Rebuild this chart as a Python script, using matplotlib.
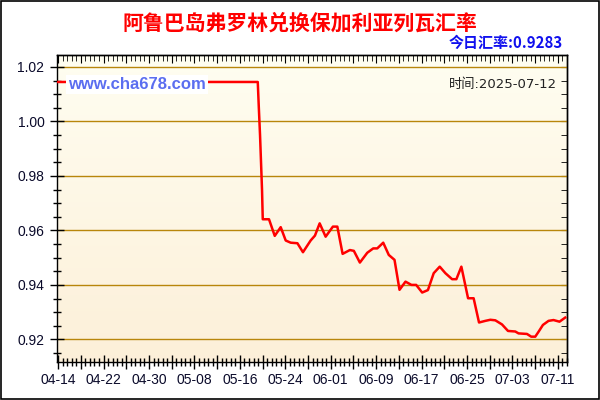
import numpy as np
import matplotlib.pyplot as plt
from matplotlib.patches import Rectangle
from matplotlib.ticker import MultipleLocator, FuncFormatter

plt.rcParams['font.family'] = ['Liberation Sans', 'Noto Sans CJK SC', 'DejaVu Sans']

title = '阿鲁巴岛弗罗林兑换保加利亚列瓦汇率'
today_text = '今日汇率:0.9283'
date_text = '时间:2025-07-12'
site = 'www.cha678.com'
start = np.datetime64('2025-04-14')

# days since 04-14
days = [0, 35.15, 35.33, 35.55, 35.73, 35.90, 36.03, 37.13, 38.14, 39.19, 40.07,
        40.95, 42.13, 43.11, 44.46, 45.22, 46.05, 47.10, 48.38, 49.16, 50.09,
        51.37, 52.07, 53.13, 54.43, 55.48, 56.19, 57.24, 58.22, 59.23, 60.11,
        61.16, 62.21, 63.04, 64.10, 65.11, 66.13, 67.19, 68.19, 69.37, 70.12,
        71.00, 72.18, 73.16, 74.11, 75.22, 76.10, 76.98, 78.15, 79.21, 80.49,
        81.07, 82.55, 83.30, 84.01, 84.59, 85.36, 86.35, 87.22, 88.28, 89.28]
rates = [1.0145, 1.0145, 1.0054, 0.9950, 0.9847, 0.9749, 0.9641, 0.9641, 0.9580, 0.9612, 0.9563,
         0.9555, 0.9553, 0.9520, 0.9563, 0.9581, 0.9626, 0.9577, 0.9614, 0.9614, 0.9514,
         0.9528, 0.9525, 0.9482, 0.9518, 0.9534, 0.9534, 0.9555, 0.9510, 0.9492, 0.9382,
         0.9412, 0.9400, 0.9400, 0.9372, 0.9381, 0.9443, 0.9467, 0.9443, 0.9421, 0.9421,
         0.9467, 0.9351, 0.9351, 0.9262, 0.9268, 0.9272, 0.9270, 0.9255, 0.9231, 0.9229,
         0.9222, 0.9220, 0.9210, 0.9210, 0.9228, 0.9253, 0.9268, 0.9271, 0.9265, 0.9280]

fig = plt.figure(figsize=(6, 4), dpi=100)
ax = fig.add_axes([0.095, 0.095, 0.85, 0.7675])

# gradient background
grad = np.linspace(0, 1, 256).reshape(-1, 1)
top_c = np.array([1.0, 0.995, 0.945])
bot_c = np.array([0.99, 0.94, 0.85])
img = top_c + (bot_c - top_c) * grad[:, :, None]
ax.imshow(img, extent=[0, 1, 0, 1], transform=ax.transAxes, aspect='auto', zorder=0)

for v in [0.92, 0.94, 0.96, 0.98, 1.00, 1.02]:
    ax.axhline(v, color='#b8860b', lw=1, zorder=1)

ax.plot(days, rates, color='red', lw=1.8, zorder=3)

ax.set_xlim(-0.2, 89.6)
ax.set_ylim(0.9117, 1.0244)

ax.yaxis.set_major_locator(MultipleLocator(0.02))
ax.yaxis.set_minor_locator(MultipleLocator(0.005))
ax.yaxis.set_major_formatter(FuncFormatter(lambda v, p: '%.2f' % v))
ax.xaxis.set_major_locator(MultipleLocator(4))
ax.xaxis.set_minor_locator(MultipleLocator(0.8))


def xlab(v, p):
    d = int(round(v))
    if d % 8 != 0:
        return ''
    s = str(start + np.timedelta64(d, 'D'))
    return s[5:]


ax.xaxis.set_major_formatter(FuncFormatter(xlab))
ax.tick_params(axis='both', which='major', direction='inout', length=10, width=1,
               labelsize=10, labelcolor='#0a0a2a')
ax.tick_params(axis='both', which='minor', direction='inout', length=6, width=1)
ax.tick_params(axis='x', pad=3)
ax.tick_params(axis='y', pad=4)

sx = ax.secondary_xaxis('top')
sx.xaxis.set_major_locator(MultipleLocator(4))
sx.xaxis.set_minor_locator(MultipleLocator(0.8))
sx.tick_params(which='both', direction='in', length=4, labeltop=False)
sx.tick_params(which='major', length=6)
sy = ax.secondary_yaxis('right')
sy.yaxis.set_major_locator(MultipleLocator(0.02))
sy.yaxis.set_minor_locator(MultipleLocator(0.005))
sy.tick_params(which='both', direction='in', length=4, labelright=False)

for a in [ax, sx, sy]:
    for sp in a.spines.values():
        sp.set_color('black')
        sp.set_linewidth(1)

ax.text(0.022, 0.905, site, transform=ax.transAxes, color='#5b6ef0', fontsize=12,
        fontweight='bold', va='center', ha='left', zorder=4,
        bbox=dict(facecolor='white', edgecolor='none', pad=1.5))
ax.text(0.98, 0.905, date_text, transform=ax.transAxes, color='#222222', fontsize=9.5,
        va='center', ha='right', zorder=4, family=['DejaVu Sans', 'Noto Sans CJK SC'])

fig.text(0.5, 0.943, title, color='red', fontsize=15, fontweight='bold', ha='center',
         va='center', family=['Noto Sans CJK SC', 'DejaVu Sans'])
fig.text(0.938, 0.893, today_text, color='#1010ee', fontsize=10.8, fontweight='bold',
         ha='right', va='center', family=['Noto Sans CJK SC', 'DejaVu Sans'])

fig.patches.append(Rectangle((0.001, 0.002), 0.997, 0.996, transform=fig.transFigure,
                             fill=False, edgecolor='black', lw=1.2))

fig.savefig('out.png', dpi=100)
